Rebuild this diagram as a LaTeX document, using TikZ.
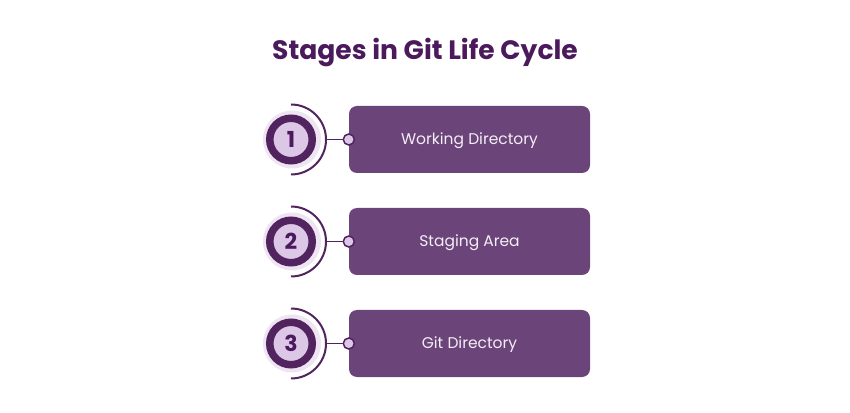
\documentclass[tikz,border=0pt]{standalone}
\usepackage{fontspec}
\setmainfont{Poppins}
\usetikzlibrary{calc}
\definecolor{titlepurple}{HTML}{4B1A5C}
\definecolor{boxpurple}{HTML}{6B4479}
\definecolor{ringpurple}{HTML}{52245F}
\definecolor{innerlav}{HTML}{DCC7E6}
\definecolor{glowlav}{HTML}{EEE4F2}
\definecolor{boxtext}{HTML}{F5EEF7}
\tikzset{
  stagebox/.style={fill=boxpurple, rounded corners=8pt, minimum width=241pt,
    minimum height=67pt, text=boxtext, text height=14pt, text depth=3.2pt,
    font=\fontsize{15.5}{18}\selectfont},
  numdisc/.style={circle, draw=ringpurple, line width=7.5pt, fill=innerlav,
    minimum size=42.5pt, inner sep=0pt, text=titlepurple,
    font=\bfseries\fontsize{22}{26}\selectfont},
  glowdisc/.style={circle, fill=glowlav, minimum size=58pt, inner sep=0pt},
  ringarc/.style={draw=ringpurple, line width=2pt},
  linkdot/.style={circle, draw=ringpurple, line width=1.5pt, fill=innerlav,
    minimum size=11pt, inner sep=0pt},
  linkline/.style={draw=ringpurple, line width=1.3pt}
}
\begin{document}
\begin{tikzpicture}[x=1pt, y=1pt]
    \useasboundingbox (0,0) rectangle (850,412);
    % title
    \node (title) at (425,352.7) [anchor=base, text=titlepurple,
      font=\bfseries\fontsize{26.6}{32}\selectfont] {Stages in Git Life Cycle};
    % stage 1
    \node (glow1) at (292,272.5) [glowdisc] {};
    \node (num1) at (291,272.5) [numdisc] {1};
    \draw[ringarc] ($(num1.center)+(0,35)$) arc[start angle=90, end angle=-90, radius=35];
    \coordinate (arc1) at ($(num1.center)+(35,0)$);
    \node (box1) at (469.5,272.5) [stagebox] {Working Directory};
    \node (dot1) at (box1.west) [linkdot] {};
    \draw[linkline] (arc1) -- (dot1);
    % stage 2
    \node (glow2) at (292,170.5) [glowdisc] {};
    \node (num2) at (291,170.5) [numdisc] {2};
    \draw[ringarc] ($(num2.center)+(0,35)$) arc[start angle=90, end angle=-90, radius=35];
    \coordinate (arc2) at ($(num2.center)+(35,0)$);
    \node (box2) at (469.5,170.5) [stagebox] {Staging Area};
    \node (dot2) at (box2.west) [linkdot] {};
    \draw[linkline] (arc2) -- (dot2);
    % stage 3
    \node (glow3) at (292,68.5) [glowdisc] {};
    \node (num3) at (291,68.5) [numdisc] {3};
    \draw[ringarc] ($(num3.center)+(0,35)$) arc[start angle=90, end angle=-90, radius=35];
    \coordinate (arc3) at ($(num3.center)+(35,0)$);
    \node (box3) at (469.5,68.5) [stagebox] {Git Directory};
    \node (dot3) at (box3.west) [linkdot] {};
    \draw[linkline] (arc3) -- (dot3);
\end{tikzpicture}
\end{document}
